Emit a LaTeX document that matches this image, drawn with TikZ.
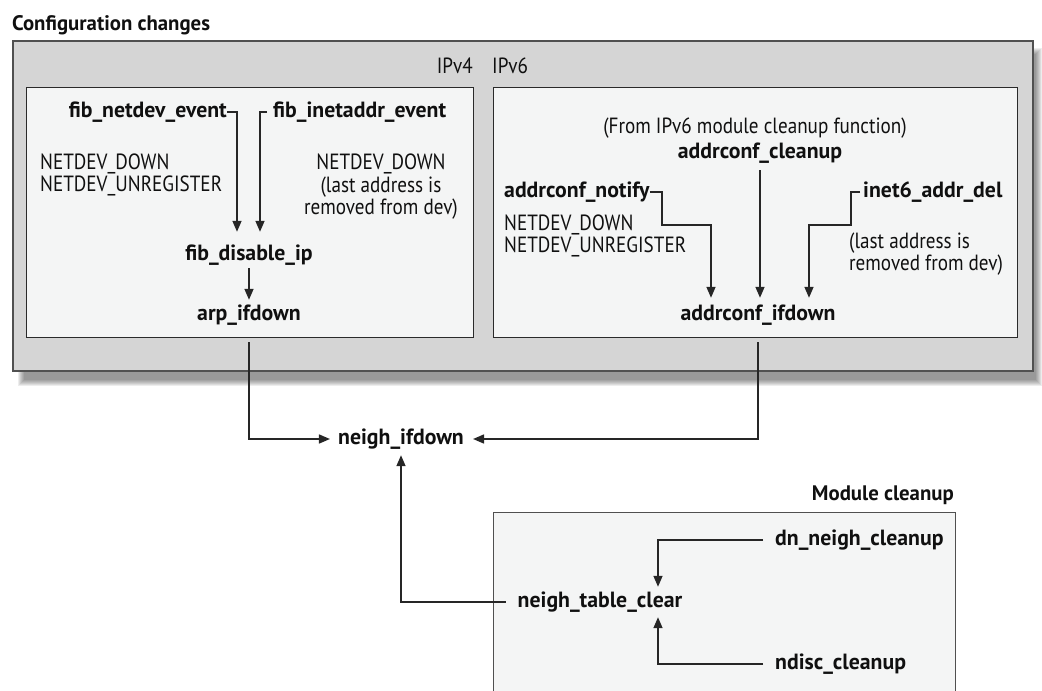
\documentclass[tikz,border=0pt]{standalone}
\usepackage{fontspec}
\setmainfont[FakeStretch=0.87, BoldFeatures={FakeStretch=0.99}]{PT Sans}
\usetikzlibrary{arrows.meta}
\definecolor{outerfill}{HTML}{D5D5D5}
\definecolor{innerfill}{HTML}{F4F5F5}
\definecolor{obord}{HTML}{505050}
\definecolor{ibord}{HTML}{2A2A2A}
\definecolor{lncol}{HTML}{262626}
\definecolor{txt}{HTML}{101010}
\begin{document}
\begin{tikzpicture}[x=1pt,y=-1pt,
  lbl/.style={inner sep=0pt, text height=15pt, text depth=5pt, font=\fontsize{22}{23}\selectfont, text=txt},
  fn/.style={lbl, font=\fontsize{22}{23}\selectfont\bfseries},
  ttl/.style={lbl, font=\fontsize{21}{23}\selectfont\bfseries},
  ml/.style={inner sep=0pt, font=\fontsize{22}{22.5}\selectfont, text=txt},
  arr/.style={draw=lncol, line width=1.5pt, -{Triangle[length=11pt,width=9pt]}},
  bigbox/.style={draw=obord, fill=outerfill, line width=2pt, inner sep=0pt, anchor=north west},
  panel/.style={draw=ibord, fill=innerfill, line width=1.4pt, inner sep=0pt, anchor=north west},
]
\useasboundingbox (0,0) rectangle (1042,691);
% shadow
\foreach \i in {0,...,6} \fill[black, opacity=0.07] (18+\i,48+\i) rectangle (1042-\i,386-\i);
% boxes
\node[bigbox, minimum width=1020pt, minimum height=330pt] (cfgbox) at (12,40) {};
\node[panel, minimum width=447pt, minimum height=250pt] (v4box) at (26,87) {};
\node[panel, minimum width=524pt, minimum height=250pt] (v6box) at (493,87) {};
\node[panel, draw=obord, minimum width=462pt, minimum height=200pt] (modbox) at (493,512) {};
% labels
\node[ttl, anchor=west] (conf) at (12,25) {Configuration changes};
\node[lbl, anchor=east] (ipv4) at (473,68) {IPv4};
\node[lbl, anchor=west] (ipv6) at (492,68) {IPv6};
\node[fn, anchor=east] (fnd) at (227,112) {fib\_netdev\_event};
\node[fn, anchor=west] (fie) at (273,112) {fib\_inetaddr\_event};
\node[ml, anchor=west, align=left] (nd1) at (40,175) {NETDEV\_DOWN\\NETDEV\_UNREGISTER};
\node[ml, align=center] (nd2) at (381,187) {NETDEV\_DOWN\\(last address is\\removed from dev)};
\node[fn] (fdi) at (249,255) {fib\_disable\_ip};
\node[fn] (arp) at (249,315) {arp\_ifdown};
\node[lbl] (from) at (755,128) {(From IPv6 module cleanup function)};
\node[fn] (acl) at (760,153) {addrconf\_cleanup};
\node[fn, anchor=west] (anot) at (504,192) {addrconf\_notify};
\node[ml, anchor=west, align=left] (nd3) at (504,236) {NETDEV\_DOWN\\NETDEV\_UNREGISTER};
\node[fn, anchor=west] (i6) at (863,192) {inet6\_addr\_del};
\node[ml, anchor=west, align=left] (last2) at (849,254) {(last address is\\removed from dev)};
\node[fn] (aifd) at (758,315) {addrconf\_ifdown};
\node[fn] (nifd) at (401,439) {neigh\_ifdown};
\node[ttl, anchor=east] (mc) at (954,495) {Module cleanup};
\node[fn, anchor=west] (dn) at (775,540) {dn\_neigh\_cleanup};
\node[fn] (ntc) at (600,602) {neigh\_table\_clear};
\node[fn, anchor=west] (ndisc) at (775,664) {ndisc\_cleanup};
% connectors
\draw[arr, shorten >=13pt] (fnd.east) -| ([xshift=-12pt]fdi.north);
\draw[arr, shorten <=6pt, shorten >=13pt] (fie.west) -| ([xshift=11pt]fdi.north);
\draw[arr, shorten <=3pt, shorten >=5pt] (fdi.south) -- (arp.north);
\draw[arr, shorten <=17pt, shorten >=8pt] (arp.south) |- (nifd.west);
\draw[arr, shorten <=17pt, shorten >=9pt] (aifd.south) |- (nifd.east);
\draw[arr, shorten <=7pt, shorten >=7pt] (acl.south) -- (acl.south |- aifd.north);
\draw[arr, shorten >=7pt] (anot.east) -- ++(12,0) -- ++(0,33) -| ([xshift=-47pt]aifd.north);
\draw[arr, shorten <=3pt, shorten >=7pt] (i6.west) -- ++(-12,0) -- ++(0,33) -| ([xshift=51pt]aifd.north);
\draw[arr, shorten <=12pt, shorten >=6pt] (ntc.west) -| (nifd.south);
\draw[arr, shorten <=12pt, shorten >=5pt] (dn.west) -| ([xshift=58pt]ntc.north);
\draw[arr, shorten <=12pt, shorten >=5pt] (ndisc.west) -| ([xshift=58pt]ntc.south);
\end{tikzpicture}
\end{document}
